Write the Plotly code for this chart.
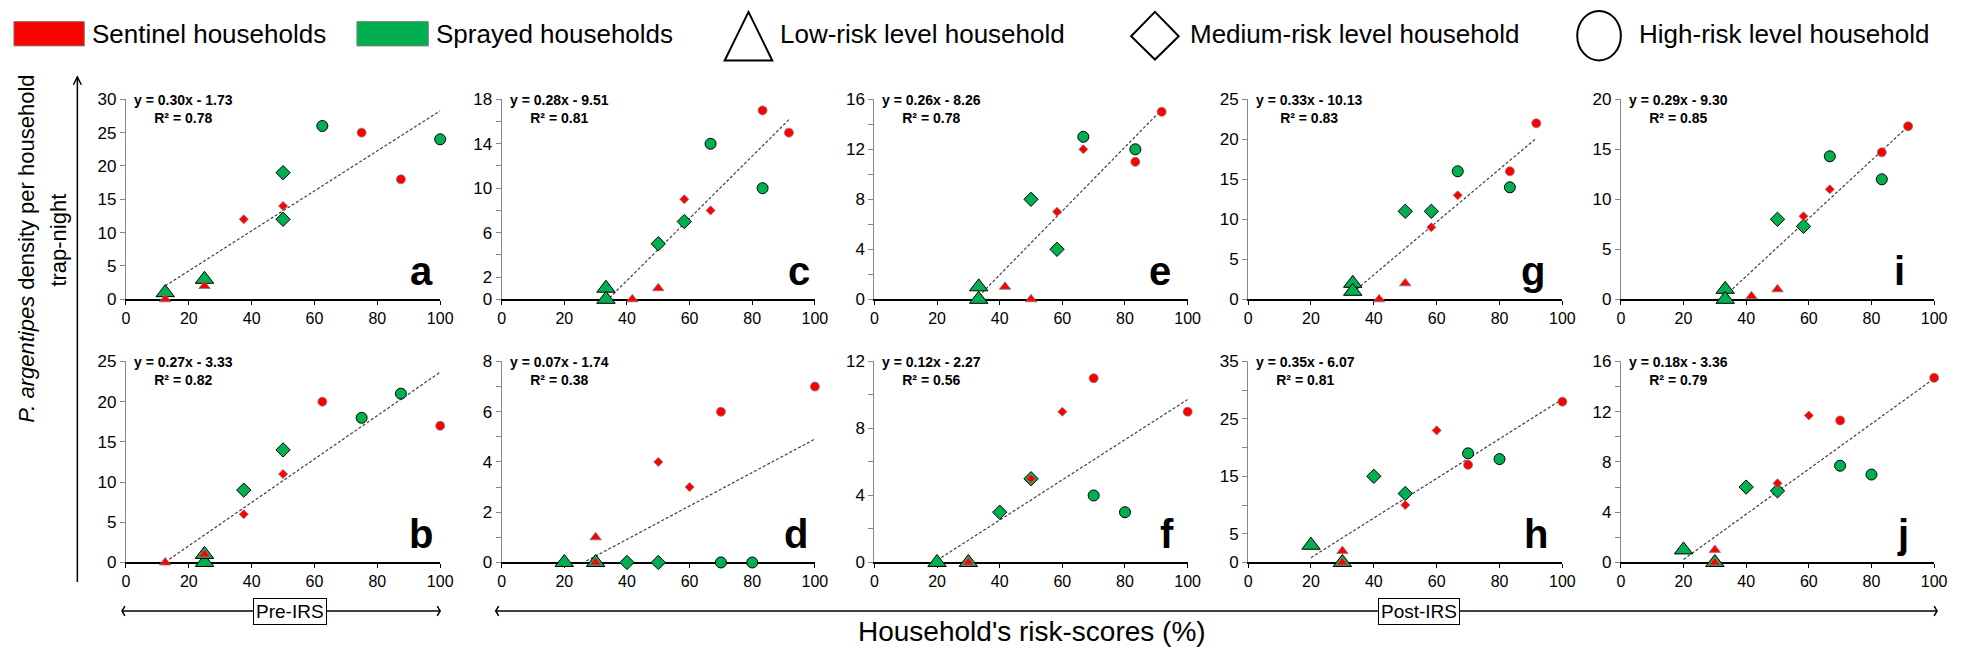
import plotly.graph_objects as go

W, H = 1961, 655

# ------------------------------------------------------------------ data
# x = household risk-score (%), y = P. argentipes density per household trap-night
# hh: "S" = sentinel household, "P" = sprayed household
# risk: "L" low, "M" medium, "H" high
risk = ["L", "L", "L", "L", "M", "M", "M", "M", "H", "H", "H", "H"]

a_x = [12.5, 12.5, 25, 25, 37.5, 50, 50, 50, 62.5, 75, 87.5, 100]
a_y = [1, 0, 3, 2, 12, 19, 14, 12, 26, 25, 18, 24]
a_hh = ["P", "S", "P", "S", "S", "P", "S", "P", "P", "S", "S", "P"]

b_x = [12.5, 25, 25, 25, 37.5, 37.5, 50, 50, 62.5, 75, 87.5, 100]
b_y = [0, 0, 1, 1, 9, 6, 14, 11, 20, 18, 21, 17]
b_hh = ["S", "P", "P", "S", "P", "S", "P", "S", "S", "P", "P", "S"]

c_x = [33.3, 33.3, 41.7, 50, 50, 58.3, 58.3, 66.7, 66.7, 83.3, 83.3, 91.7]
c_y = [1, 0, 0, 1, 5, 9, 7, 8, 14, 10, 17, 15]
c_hh = ["P", "P", "S", "S", "P", "S", "P", "S", "P", "P", "S", "S"]

d_x = [20, 30, 30, 30, 40, 50, 50, 60, 70, 70, 80, 100]
d_y = [0, 0, 1, 0, 0, 0, 4, 3, 6, 0, 0, 7]
d_hh = ["P", "P", "S", "S", "P", "P", "S", "S", "S", "P", "P", "S"]

e_x = [33.3, 33.3, 41.7, 50, 50, 58.3, 58.3, 66.7, 66.7, 83.3, 83.3, 91.7]
e_y = [1, 0, 1, 0, 8, 4, 7, 12, 13, 12, 11, 15]
e_hh = ["P", "P", "S", "S", "P", "P", "S", "S", "P", "P", "S", "S"]

f_x = [20, 30, 30, 30, 40, 50, 50, 60, 70, 70, 80, 100]
f_y = [0, 0, 0, 0, 3, 5, 5, 9, 11, 4, 3, 9]
f_hh = ["P", "P", "S", "S", "P", "P", "S", "S", "S", "P", "P", "S"]

g_x = [33.3, 33.3, 41.7, 50, 50, 58.3, 58.3, 66.7, 66.7, 83.3, 83.3, 91.7]
g_y = [2, 1, 0, 2, 11, 11, 9, 13, 16, 16, 14, 22]
g_hh = ["P", "P", "S", "S", "P", "P", "S", "S", "P", "S", "P", "S"]

h_x = [20, 30, 30, 30, 40, 50, 50, 60, 70, 70, 80, 100]
h_y = [3, 0, 2, 0, 15, 12, 10, 23, 19, 17, 18, 28]
h_hh = ["P", "P", "S", "S", "P", "P", "S", "S", "P", "S", "P", "S"]

i_x = [33.3, 33.3, 41.7, 50, 50, 58.3, 58.3, 66.7, 66.7, 83.3, 83.3, 91.7]
i_y = [1, 0, 0.3, 1, 8, 8.3, 7.3, 11, 14.3, 14.7, 12, 17.3]
i_hh = ["P", "P", "S", "S", "P", "S", "P", "S", "P", "S", "P", "S"]

j_x = [20, 30, 30, 30, 40, 50, 50, 60, 70, 70, 80, 100]
j_y = [1, 0, 1, 0, 6, 6.3, 5.7, 11.7, 11.3, 7.7, 7, 14.7]
j_hh = ["P", "P", "S", "S", "P", "S", "P", "S", "S", "P", "P", "S"]

panel_letters = ["a", "b", "c", "d", "e", "f", "g", "h", "i", "j"]
panel_x = [a_x, b_x, c_x, d_x, e_x, f_x, g_x, h_x, i_x, j_x]
panel_y = [a_y, b_y, c_y, d_y, e_y, f_y, g_y, h_y, i_y, j_y]
panel_hh = [a_hh, b_hh, c_hh, d_hh, e_hh, f_hh, g_hh, h_hh, i_hh, j_hh]

# linear trend lines (as drawn) and their printed labels
trend_slope = [0.30, 0.27, 0.28, 0.0665, 0.2555, 0.12, 0.33, 0.345, 0.29, 0.18]
trend_icept = [-1.73, -3.33, -9.51, -1.74, -8.26, -2.27, -10.13, -6.07, -9.30, -3.36]
eq_label = ["y = 0.30x - 1.73", "y = 0.27x - 3.33", "y = 0.28x - 9.51", "y = 0.07x - 1.74",
            "y = 0.26x - 8.26", "y = 0.12x - 2.27", "y = 0.33x - 10.13", "y = 0.35x - 6.07",
            "y = 0.29x - 9.30", "y = 0.18x - 3.36"]
r2_label = ["0.78", "0.82", "0.81", "0.38", "0.78", "0.56", "0.83", "0.81", "0.85", "0.79"]

# y axes: max, tick step, labelled ticks
y_max = [30, 25, 18, 8, 16, 12, 25, 35, 20, 16]
y_step = [5, 5, 2, 1, 2, 2, 5, 5, 5, 2]
y_labelled = [
    [0, 5, 10, 15, 20, 25, 30],
    [0, 5, 10, 15, 20, 25],
    [0, 2, 6, 10, 14, 18],
    [0, 2, 4, 6, 8],
    [0, 4, 8, 12, 16],
    [0, 4, 8, 12],
    [0, 5, 10, 15, 20, 25],
    [0, 5, 15, 25, 35],
    [0, 5, 10, 15, 20],
    [0, 4, 8, 12, 16],
]
x_ticks = [0, 20, 40, 60, 80, 100]

legend_labels = ["Sentinel households", "Sprayed households", "Low-risk level household",
                 "Medium-risk level household", "High-risk level household"]

# ------------------------------------------------------------------ styling
FONT = "Arial, 'Liberation Sans', sans-serif"
RED = "#FF0000"
GREEN = "#00B050"
col_px = [(123, 440), (502, 818), (878, 1194), (1255, 1572), (1631, 1947)]
row_px = [(93, 299), (363, 570)]
letter_xpos = [94, 94, 95, 94, 91.3, 93.3, 90.6, 91.5, 89, 90]

styles = [
    ("P", "L", dict(symbol="triangle-up", size=16, color=GREEN, line=dict(color="#000000", width=1))),
    ("S", "L", dict(symbol="triangle-up", size=10, color=RED, line=dict(color="#7F7F7F", width=0.8))),
    ("P", "M", dict(symbol="diamond", size=11, color=GREEN, line=dict(color="#000000", width=1))),
    ("S", "M", dict(symbol="diamond", size=7, color=RED, line=dict(color="#7F7F7F", width=0.8))),
    ("P", "H", dict(symbol="circle", size=11, color=GREEN, line=dict(color="#000000", width=1))),
    ("S", "H", dict(symbol="circle", size=9, color=RED, line=dict(color="#7F7F7F", width=0.8))),
]


def fx(px):
    return px / W


def fy(py):
    return 1 - py / H


fig = go.Figure()
layout = dict(
    width=W, height=H, margin=dict(l=0, r=0, t=0, b=0), autosize=False,
    paper_bgcolor="white", plot_bgcolor="white", showlegend=False,
    font=dict(family=FONT, color="black"),
)
annotations = []
shapes = []

for k in range(10):
    n = k + 1
    sfx = "" if n == 1 else str(n)
    col, row = k // 2, k % 2
    xs, ys, hh = panel_x[k], panel_y[k], panel_hh[k]

    # trend line
    x0, x1 = min(xs), max(xs)
    fig.add_trace(go.Scatter(
        x=[x0, x1], y=[trend_slope[k] * x0 + trend_icept[k], trend_slope[k] * x1 + trend_icept[k]],
        mode="lines", line=dict(color="#404040", width=1.2, dash="3px,2px"),
        xaxis="x" + sfx, yaxis="y" + sfx, hoverinfo="skip"))

    for g, r, mk in styles:
        px_ = [x for x, h_, rr in zip(xs, hh, risk) if h_ == g and rr == r]
        py_ = [y for y, h_, rr in zip(ys, hh, risk) if h_ == g and rr == r]
        if not px_:
            continue
        fig.add_trace(go.Scatter(x=px_, y=py_, mode="markers", marker=mk, cliponaxis=False,
                                 xaxis="x" + sfx, yaxis="y" + sfx))

    ticks = list(range(0, y_max[k] + 1, y_step[k]))
    layout["xaxis" + sfx] = dict(
        domain=[fx(col_px[col][0]), fx(col_px[col][1])], range=[0, 100], anchor="y" + sfx,
        tickvals=x_ticks, ticks="outside", ticklen=4, tickcolor="black", tickwidth=1,
        showline=True, linecolor="black", linewidth=1.5, showgrid=False, zeroline=False,
        layer="below traces", tickfont=dict(size=16, family=FONT), fixedrange=True)
    layout["yaxis" + sfx] = dict(
        domain=[fy(row_px[row][1]), fy(row_px[row][0])], range=[0, y_max[k]], anchor="x" + sfx,
        tickvals=ticks, ticktext=[str(t) if t in y_labelled[k] else "" for t in ticks],
        ticks="outside", ticklen=5, tickcolor="#888888", tickwidth=1,
        showline=True, linecolor="#888888", linewidth=1, showgrid=False, zeroline=False,
        layer="below traces", tickfont=dict(size=17, family=FONT), fixedrange=True)

    annotations.append(dict(
        text="<b>%s<br>R² = %s</b>" % (eq_label[k], r2_label[k]), align="center",
        xref="x" + sfx + " domain", yref="y" + sfx + " domain", x=0, y=1, xshift=6, yshift=9,
        xanchor="left", yanchor="top", showarrow=False, font=dict(size=14, family=FONT)))
    annotations.append(dict(
        text="<b>%s</b>" % panel_letters[k], xref="x" + sfx, yref="y" + sfx + " domain",
        x=letter_xpos[k], y=0, yshift=4, xanchor="center", yanchor="bottom", showarrow=False,
        font=dict(size=40, family=FONT)))

# ------------------------------------------------------------------ legend (drawn)
LEG_Y = 26
shapes.append(dict(type="rect", xref="paper", yref="paper", x0=fx(10), x1=fx(81), y0=fy(38), y1=fy(13),
                   fillcolor=RED, line=dict(color="#7F7F7F", width=1)))
shapes.append(dict(type="rect", xref="paper", yref="paper", x0=fx(356), x1=fx(428), y0=fy(38), y1=fy(13),
                   fillcolor=GREEN, line=dict(color="#7F7F7F", width=1)))
shapes.append(dict(type="path", xref="paper", yref="paper",
                   path="M %f,%f L %f,%f L %f,%f Z" % (fx(727), fy(53), fx(775), fy(53), fx(751), fy(3)),
                   fillcolor="white", line=dict(color="black", width=2)))
shapes.append(dict(type="path", xref="paper", yref="paper",
                   path="M %f,%f L %f,%f L %f,%f L %f,%f Z" % (fx(1161), fy(3), fx(1185), fy(28),
                                                              fx(1161), fy(52), fx(1137), fy(28)),
                   fillcolor="white", line=dict(color="black", width=2)))
shapes.append(dict(type="circle", xref="paper", yref="paper", x0=fx(1587), x1=fx(1631), y0=fy(53), y1=fy(2),
                   fillcolor="white", line=dict(color="black", width=2)))
for xt, lab in zip([87, 434, 781, 1194, 1647], legend_labels):
    annotations.append(dict(text=lab, xref="paper", yref="paper", x=fx(xt), y=fy(LEG_Y),
                            xanchor="left", yanchor="middle", showarrow=False,
                            font=dict(size=26, family=FONT)))

# ------------------------------------------------------------------ axis titles / brackets
annotations.append(dict(
    text="<i>P. argentipes</i> density per household", textangle=-90,
    xref="paper", yref="paper", x=fx(23), y=fy(247), xanchor="center", yanchor="middle",
    showarrow=False, font=dict(size=22, family=FONT)))
annotations.append(dict(
    text="trap-night", textangle=-90,
    xref="paper", yref="paper", x=fx(55), y=fy(238), xanchor="center", yanchor="middle",
    showarrow=False, font=dict(size=22, family=FONT)))
# vertical arrow
shapes.append(dict(type="line", xref="paper", yref="paper", x0=fx(74), x1=fx(74), y0=fy(590), y1=fy(70),
                   line=dict(color="black", width=1.5)))
shapes.append(dict(type="path", xref="paper", yref="paper",
                   path="M %f,%f L %f,%f L %f,%f" % (fx(70), fy(78), fx(74), fy(70), fx(78), fy(78)),
                   line=dict(color="black", width=1.5)))

BR_Y = 620
for (xa, xb, xc, lab) in [(119, 440, 289, "Pre-IRS"), (496, 1950, 1427, "Post-IRS")]:
    shapes.append(dict(type="line", xref="paper", yref="paper", x0=fx(xa), x1=fx(xb), y0=fy(BR_Y), y1=fy(BR_Y),
                       line=dict(color="black", width=1.5)))
    shapes.append(dict(type="path", xref="paper", yref="paper",
                       path="M %f,%f L %f,%f L %f,%f" % (fx(xa + 3), fy(BR_Y - 5), fx(xa), fy(BR_Y),
                                                         fx(xa + 3), fy(BR_Y + 5)),
                       line=dict(color="black", width=1.5)))
    shapes.append(dict(type="path", xref="paper", yref="paper",
                       path="M %f,%f L %f,%f L %f,%f" % (fx(xb - 3), fy(BR_Y - 5), fx(xb), fy(BR_Y),
                                                         fx(xb - 3), fy(BR_Y + 5)),
                       line=dict(color="black", width=1.5)))
    annotations.append(dict(text=lab, xref="paper", yref="paper", x=fx(xc), y=fy(BR_Y),
                            xanchor="center", yanchor="middle", showarrow=False,
                            bgcolor="white", bordercolor="black", borderwidth=1, borderpad=2,
                            font=dict(size=19, family=FONT)))

annotations.append(dict(text="Household's risk-scores (%)", xref="paper", yref="paper",
                        x=fx(1037), y=fy(641), xanchor="center", yanchor="middle", showarrow=False,
                        font=dict(size=28, family=FONT)))

layout["annotations"] = annotations
layout["shapes"] = shapes
fig.update_layout(**layout)

fig.write_html("out.html", config={"displayModeBar": False},
               post_script="document.body.style.margin='0px';document.body.style.overflow='hidden';")
